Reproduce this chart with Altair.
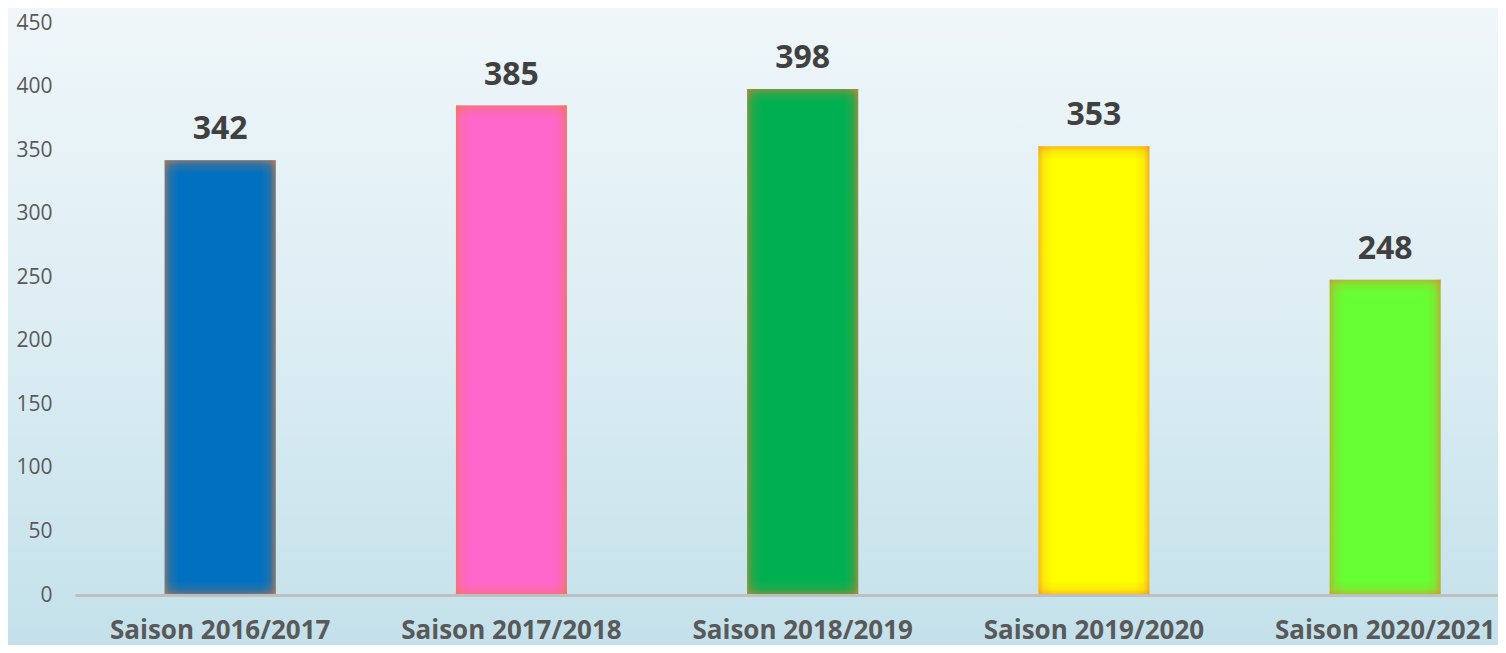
import altair as alt
import pandas as pd

categories = ["Saison 2016/2017", "Saison 2017/2018", "Saison 2018/2019", "Saison 2019/2020", "Saison 2020/2021"]
values = [342, 385, 398, 353, 248]
bar_colors = ["#0070c0", "#ff66cc", "#00b050", "#ffff00", "#66ff33"]
y_ticks = [0, 50, 100, 150, 200, 250, 300, 350, 400, 450]

df = pd.DataFrame({"cat": categories, "val": values, "col": bar_colors})

W, H = 1423, 572
YMAX = 450

x_scale = alt.Scale(type="band", domain=categories, paddingInner=0.619, paddingOuter=0.2525, align=0.61)
y_scale = alt.Scale(domain=[0, YMAX], nice=False)

x_enc = alt.X("cat:N", sort=categories, scale=x_scale,
              axis=alt.Axis(title=None, labelAngle=0, ticks=False, tickSize=0,
                            domainColor="#bfbfbf", domainWidth=3, zindex=1, labelLimit=500,
                            labelFont="Open Sans", labelFontSize=26, labelFontWeight="bold",
                            labelColor="#595959", labelPadding=22))
y_enc = alt.Y("val:Q", scale=y_scale,
              axis=alt.Axis(title=None, values=y_ticks, domain=False, ticks=False, tickSize=0,
                            grid=False, zindex=1, labelFont="Open Sans", labelFontSize=21,
                            labelColor="#595959", labelPadding=23))

bg = alt.Chart(alt.Data(values=[{}])).mark_rect(
    fill=alt.Gradient(gradient="linear", x1=0, y1=0, x2=0, y2=1,
                      stops=[alt.GradientStop(color="#f0f7fa", offset=0),
                             alt.GradientStop(color="#dcedf3", offset=0.5),
                             alt.GradientStop(color="#c2e0ea", offset=1)])
).encode(x=alt.value(-80), x2=alt.value(W + 30), y=alt.value(-30), y2=alt.value(H + 70))

base = alt.Chart(df)

bars = base.mark_bar().encode(
    x=x_enc, y=y_enc,
    color=alt.Color("cat:N", sort=categories,
                    scale=alt.Scale(domain=categories, range=bar_colors), legend=None)
)

glow = "237,125,49"
hglow = base.mark_bar(
    fill=alt.Gradient(gradient="linear", x1=0, y1=0, x2=1, y2=0,
                      stops=[alt.GradientStop(color=f"rgba({glow},0.5)", offset=0),
                             alt.GradientStop(color=f"rgba({glow},0.15)", offset=0.05),
                             alt.GradientStop(color=f"rgba({glow},0)", offset=0.13),
                             alt.GradientStop(color=f"rgba({glow},0)", offset=0.87),
                             alt.GradientStop(color=f"rgba({glow},0.15)", offset=0.95),
                             alt.GradientStop(color=f"rgba({glow},0.6)", offset=1)])
).encode(x=x_enc, y=y_enc)

vlayers = []
for c, v in zip(categories, values):
    px = v * H / YMAX
    f = min(0.3, 14.0 / px)
    vlayers.append(
        base.transform_filter(alt.datum.cat == c).mark_bar(
            fill=alt.Gradient(gradient="linear", x1=0, y1=0, x2=0, y2=1,
                              stops=[alt.GradientStop(color=f"rgba({glow},0.5)", offset=0),
                                     alt.GradientStop(color=f"rgba({glow},0.15)", offset=f * 0.4),
                                     alt.GradientStop(color=f"rgba({glow},0)", offset=f),
                                     alt.GradientStop(color=f"rgba({glow},0)", offset=1 - f),
                                     alt.GradientStop(color=f"rgba({glow},0.15)", offset=1 - f * 0.4),
                                     alt.GradientStop(color=f"rgba({glow},0.5)", offset=1)])
        ).encode(x=x_enc, y=y_enc)
    )

labels = base.mark_text(dy=-31, fontSize=32, fontWeight="bold", font="Open Sans",
                        color="#404040", baseline="middle").encode(
    x=x_enc, y=y_enc, text=alt.Text("val:Q")
)

chart = alt.layer(bg, bars, hglow, *vlayers, labels).properties(
    width=W, height=H,
    autosize=alt.AutoSizeParams(type="none"),
    padding={"left": 67, "top": 15, "right": 0, "bottom": 50},
).configure_view(stroke=None)

chart.save("out.html", embed_options={"renderer": "svg", "actions": False})
